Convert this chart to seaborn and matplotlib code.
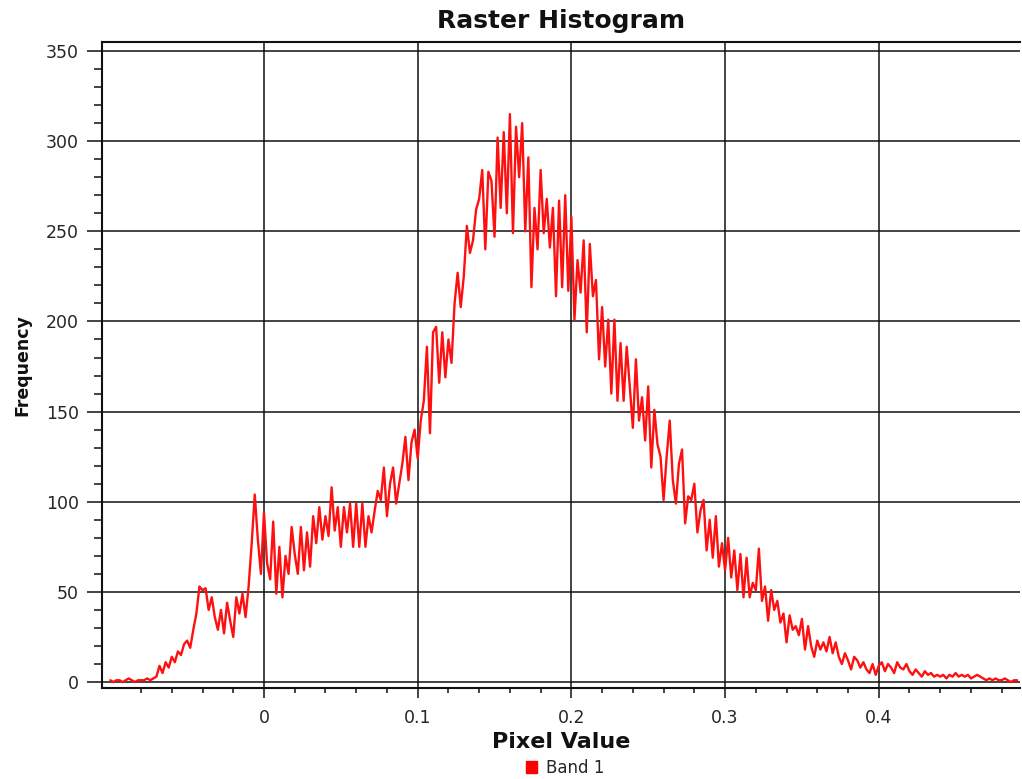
import numpy as np
import pandas as pd
import matplotlib
matplotlib.use("Agg")
import matplotlib.pyplot as plt
from matplotlib.patches import Patch
from matplotlib.ticker import FixedLocator
import seaborn as sns

# ---- data (histogram of Band 1, bins of width 0.002 starting at -0.100) ----
bin_start = -0.100
bin_width = 0.002

counts_left_tail = [
    1, 0, 1, 1, 0, 1, 2, 1, 0, 1,
    1, 1, 2, 1, 2, 3, 9, 5, 11, 8,
    14, 11, 17, 15, 21, 23, 19, 29, 38, 53,
    51, 52, 40, 47, 36, 29, 40, 27, 44, 34,
    25, 47, 38, 49, 36, 53, 77, 104, 79, 60,
]
counts_shoulder = [
    94, 66, 57, 89, 49, 75, 47, 70, 60, 86,
    71, 60, 86, 62, 83, 64, 92, 77, 97, 79,
    92, 81, 108, 84, 97, 75, 97, 83, 99, 75,
    99, 75, 99, 75, 92, 83, 95, 106, 101, 119,
    92, 110, 119, 99, 110, 121, 136, 112, 133, 140,
]
counts_peak = [
    124, 145, 156, 186, 138, 194, 197, 166, 194, 169,
    190, 177, 210, 227, 208, 225, 253, 238, 245, 262,
    268, 284, 240, 283, 278, 247, 302, 263, 305, 260,
    315, 249, 308, 280, 310, 250, 291, 219, 263, 240,
    284, 249, 268, 241, 263, 214, 267, 219, 270, 217,
]
counts_decline = [
    258, 201, 234, 216, 245, 194, 243, 214, 223, 179,
    208, 175, 201, 160, 201, 156, 188, 156, 186, 164,
    141, 179, 145, 158, 134, 164, 119, 151, 132, 125,
    101, 125, 145, 112, 99, 121, 129, 88, 103, 101,
    110, 83, 95, 101, 73, 90, 69, 92, 64, 77,
]
counts_right_tail = [
    62, 80, 58, 73, 51, 71, 47, 69, 47, 55,
    51, 74, 45, 53, 34, 51, 40, 45, 33, 38,
    22, 37, 29, 31, 26, 35, 18, 31, 20, 14,
    23, 18, 22, 17, 25, 16, 22, 14, 10, 16,
    12, 7, 14, 12, 8, 11, 7, 5, 10, 4,
    9, 11, 6, 10, 8, 5, 11, 8, 7, 10,
    6, 4, 7, 5, 3, 6, 4, 5, 3, 4,
    3, 4, 2, 4, 3, 5, 3, 4, 3, 4,
    2, 3, 4, 3, 2, 1, 2, 1, 2, 1,
    1, 2, 1, 0, 1, 1,
]

x_major_ticks = [0.0, 0.1, 0.2, 0.3, 0.4]
x_tick_labels = ["0", "0.1", "0.2", "0.3", "0.4"]
y_major_ticks = [0, 50, 100, 150, 200, 250, 300, 350]
series_name = "Band 1"

counts = counts_left_tail + counts_shoulder + counts_peak + counts_decline + counts_right_tail
pixel_values = np.round(bin_start + bin_width * np.arange(len(counts)), 4)
df = pd.DataFrame({"Pixel Value": pixel_values, "Frequency": counts})

# ---- style ----
sns.set_style("white")
plt.rcParams["font.family"] = ["DejaVu Sans"]

W, H = 1022, 779
fig = plt.figure(figsize=(W / 100, H / 100), dpi=100)
ax = fig.add_axes([102 / W, 1 - 688 / H, (1020 - 102) / W, (688 - 42) / H])

sns.lineplot(data=df, x="Pixel Value", y="Frequency", ax=ax, color="#ff1010",
             linewidth=1.7, estimator=None, legend=False)

ax.set_xlim(-0.1054, 0.4919)
ax.set_ylim(-3.3, 355.0)

ax.xaxis.set_major_locator(FixedLocator(x_major_ticks))
ax.set_xticklabels(x_tick_labels)
minor_x = [round(-0.08 + 0.02 * i, 2) for i in range(29)]
minor_x = [v for v in minor_x if all(abs(v - m) > 1e-6 for m in x_major_ticks)]
ax.xaxis.set_minor_locator(FixedLocator(minor_x))
ax.yaxis.set_major_locator(FixedLocator(y_major_ticks))
ax.yaxis.set_minor_locator(FixedLocator([v for v in range(0, 351, 10) if v % 50]))

ax.grid(True, which="major", color="#111111", linewidth=1.1)
ax.set_axisbelow(True)

for side in ["left", "bottom", "top"]:
    ax.spines[side].set_visible(True)
    ax.spines[side].set_color("#111111")
    ax.spines[side].set_linewidth(1.5)
ax.spines["right"].set_visible(False)

ax.tick_params(axis="y", which="major", direction="out", length=10.8, width=1.1,
               color="#111111", pad=6, labelsize=12.5, labelcolor="#262626", left=True)
ax.tick_params(axis="y", which="minor", direction="out", length=5.8, width=1.1,
               color="#111111", left=True)
ax.tick_params(axis="x", which="major", direction="out", length=7, width=1.1,
               color="#111111", pad=8, labelsize=12.5, labelcolor="#262626", bottom=True)
ax.tick_params(axis="x", which="minor", direction="out", length=3.6, width=1.1,
               color="#111111", bottom=True)

ax.set_title("Raster Histogram", fontsize=18, fontweight="bold", pad=10, color="#111111")
ax.set_xlabel("Pixel Value", fontsize=16, fontweight="bold", labelpad=4, color="#111111")
ax.set_ylabel("Frequency", fontsize=12.5, fontweight="bold", labelpad=10, color="#111111")

fig.legend(handles=[Patch(facecolor="#ff0000", edgecolor="#ff0000", label=series_name)],
           loc="center", bbox_to_anchor=(565 / W, 1 - 768 / H), frameon=False,
           fontsize=12, handlelength=0.7, handleheight=0.7, handletextpad=0.5,
           borderpad=0.1)

fig.savefig("out.png", dpi=100)
